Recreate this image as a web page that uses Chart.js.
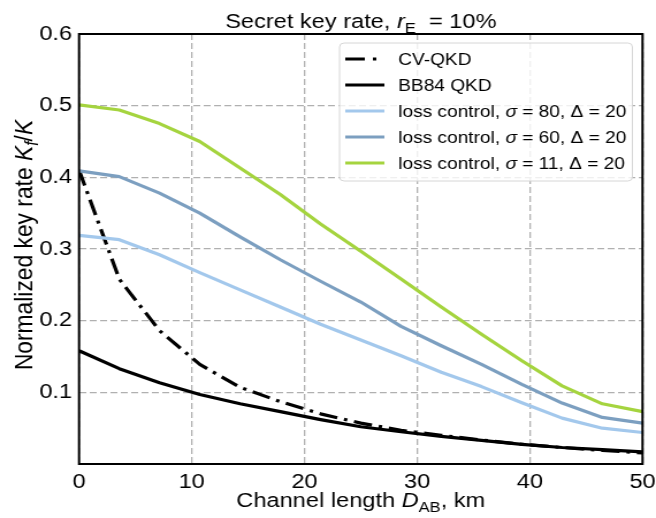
<!DOCTYPE html>
<html><head><meta charset="utf-8">
<script src="https://cdn.jsdelivr.net/npm/chart.js@4.4.0/dist/chart.umd.min.js"></script>
<style>
html,body{margin:0;padding:0;background:#fff;overflow:hidden}
</style>
</head><body>
<canvas id="c" width="570" height="518" style="display:block;width:656px;height:518px"></canvas>
<script>
// ---- data ----
const KM = [0, 3.57, 7.14, 10.71, 14.29, 17.86, 21.43, 25, 28.57, 32.14, 35.71, 39.29, 42.86, 46.43, 50];
const CV_QKD   = [0.410, 0.258, 0.186, 0.139, 0.107, 0.087, 0.070, 0.057, 0.047, 0.040, 0.0335, 0.0275, 0.023, 0.019, 0.0155];
const BB84_QKD = [0.158, 0.133, 0.1135, 0.097, 0.084, 0.073, 0.062, 0.052, 0.045, 0.0385, 0.033, 0.0275, 0.023, 0.020, 0.017];
const LOSS_S80 = [0.319, 0.313, 0.292, 0.267, 0.243, 0.219, 0.195, 0.173, 0.151, 0.128, 0.108, 0.0855, 0.064, 0.050, 0.044];
const LOSS_S60 = [0.409, 0.401, 0.378, 0.350, 0.317, 0.285, 0.255, 0.226, 0.192, 0.165, 0.139, 0.111, 0.085, 0.065, 0.057];
const LOSS_S11 = [0.501, 0.494, 0.475, 0.450, 0.413, 0.376, 0.335, 0.297, 0.258, 0.219, 0.181, 0.144, 0.109, 0.084, 0.073];
const X_TICKS = [0, 10, 20, 30, 40, 50];
const Y_TICKS = [0.1, 0.2, 0.3, 0.4, 0.5, 0.6];
const LABELS = ['CV-QKD', 'BB84 QKD',
  'loss control, σ = 80, Δ = 20', 'loss control, σ = 60, Δ = 20', 'loss control, σ = 11, Δ = 20'];
const SIGMAS = ['80', '60', '11'];

const FAM = '"Liberation Sans", Arial, Helvetica, sans-serif';

function fontFor(st, size) {
  const it = st.indexOf('i') >= 0 ? 'italic ' : '';
  const s = st.indexOf('sub') >= 0 ? size * 0.7 : size;
  return it + s + 'px ' + FAM;
}
function measureRich(ctx, parts, size) {
  let w = 0;
  for (const [t, st] of parts) { ctx.font = fontFor(st, size); w += ctx.measureText(t).width; }
  return w;
}
function drawRich(ctx, parts, x, y, size, align) {
  const w = measureRich(ctx, parts, size);
  let cx = align === 'center' ? x - w / 2 : (align === 'right' ? x - w : x);
  ctx.textAlign = 'left';
  for (const [t, st] of parts) {
    ctx.font = fontFor(st, size);
    const dy = st.indexOf('sub') >= 0 ? size * 0.24 : 0;
    ctx.fillText(t, cx, y + dy);
    cx += ctx.measureText(t).width;
  }
}

function pts(ys) { return KM.map((x, i) => ({x: x, y: ys[i]})); }

const datasets = [
  {label: LABELS[0], data: pts(CV_QKD), borderColor: '#000000', borderWidth: 3.2, borderDash: [16, 6, 3, 6], order: 4},
  {label: LABELS[1], data: pts(BB84_QKD), borderColor: '#000000', borderWidth: 3.2, order: 3},
  {label: LABELS[2], data: pts(LOSS_S80), borderColor: '#a3c8ec', borderWidth: 3.2, order: 2},
  {label: LABELS[3], data: pts(LOSS_S60), borderColor: '#7c9fc0', borderWidth: 3.2, order: 1},
  {label: LABELS[4], data: pts(LOSS_S11), borderColor: '#a5d43f', borderWidth: 3.2, order: 0}
];
datasets.forEach(d => { d.pointRadius = 0; d.fill = false; d.tension = 0; d.borderCapStyle = 'butt'; d.borderJoinStyle = 'round'; });

const decor = {
  id: 'decor',
  afterDatasetsDraw(chart) {
    const ctx = chart.ctx, a = chart.chartArea;
    ctx.save();
    ctx.strokeStyle = '#000';
    ctx.lineWidth = 2;
    ctx.setLineDash([]);
    ctx.strokeRect(a.left, a.top, a.right - a.left, a.bottom - a.top);
    const bx = 295, by = 43, bw = 549.5 - 295, bh = 181 - 43, r = 4;
    ctx.beginPath();
    ctx.moveTo(bx + r, by);
    ctx.arcTo(bx + bw, by, bx + bw, by + bh, r);
    ctx.arcTo(bx + bw, by + bh, bx, by + bh, r);
    ctx.arcTo(bx, by + bh, bx, by, r);
    ctx.arcTo(bx, by, bx + bw, by, r);
    ctx.closePath();
    ctx.fillStyle = 'rgba(255,255,255,0.8)';
    ctx.fill();
    ctx.strokeStyle = '#d6d6d6';
    ctx.lineWidth = 1;
    ctx.stroke();
    const size = 16.6;
    ctx.textBaseline = 'middle';
    ctx.fillStyle = '#000';
    chart.data.datasets.forEach((d, i) => {
      const y = 59 + i * 26;
      ctx.beginPath();
      ctx.strokeStyle = d.borderColor;
      ctx.lineWidth = d.borderWidth;
      ctx.lineCap = 'butt';
      ctx.setLineDash(i === 0 ? [17, 7, 3, 20] : []);
      ctx.moveTo(300, y);
      ctx.lineTo(334, y);
      ctx.stroke();
      ctx.setLineDash([]);
      let parts;
      if (i < 2) parts = [[d.label, '']];
      else parts = [['loss control, ', ''], ['σ', 'i'], [' = ' + SIGMAS[i - 2] + ', Δ = 20', '']];
      drawRich(ctx, parts, 346, y + 1, size, 'left');
    });
    ctx.restore();
  },
  afterDraw(chart) {
    const ctx = chart.ctx, a = chart.chartArea;
    ctx.save();
    ctx.fillStyle = '#000';
    ctx.textBaseline = 'alphabetic';
    const cx = (a.left + a.right) / 2;
    drawRich(ctx, [['Secret key rate, ', ''], ['r', 'i'], ['E', 'sub'], ['  = 10%', '']], cx, 28, 20.5, 'center');
    drawRich(ctx, [['Channel length ', ''], ['D', 'i'], ['AB', 'sub'], [', km', '']], cx, 507, 20.5, 'center');
    ctx.translate(28, 245);
    ctx.rotate(-Math.PI / 2);
    drawRich(ctx, [['Normalized key rate ', ''], ['K', 'i'], ['f', 'isub'], ['/', ''], ['K', 'i']], 0, 0, 22.8, 'center');
    ctx.restore();
  }
};

new Chart(document.getElementById('c'), {
  type: 'line',
  data: {datasets: datasets},
  options: {
    responsive: false,
    devicePixelRatio: 1,
    animation: false,
    events: [],
    layout: {padding: {top: 34, right: 11.7, left: 0, bottom: 0}},
    plugins: {legend: {display: false}, title: {display: false}, tooltip: {enabled: false}},
    scales: {
      x: {
        type: 'linear', min: 0, max: 50,
        afterBuildTicks: s => { s.ticks = X_TICKS.map(v => ({value: v})); },
        afterFit: s => { s.height = 54; s.paddingLeft = 0; s.paddingRight = 0; },
        grid: {color: '#b0b0b0', lineWidth: 1.3, drawTicks: false},
        border: {display: false, dash: [6, 3]},
        ticks: {color: '#000', padding: 6, maxRotation: 0, font: {family: FAM, size: 20.5}, callback: v => String(v)}
      },
      y: {
        type: 'linear', min: 0, max: 0.6,
        afterBuildTicks: s => { s.ticks = Y_TICKS.map(v => ({value: v})); },
        afterFit: s => { s.width = 68.7; s.paddingTop = 0; s.paddingBottom = 0; },
        grid: {color: '#b0b0b0', lineWidth: 1.3, drawTicks: false},
        border: {display: false, dash: [6, 3]},
        ticks: {color: '#000', padding: 6, font: {family: FAM, size: 20.5}, callback: v => Number(v).toFixed(1)}
      }
    }
  },
  plugins: [decor]
});
</script>
</body></html>
